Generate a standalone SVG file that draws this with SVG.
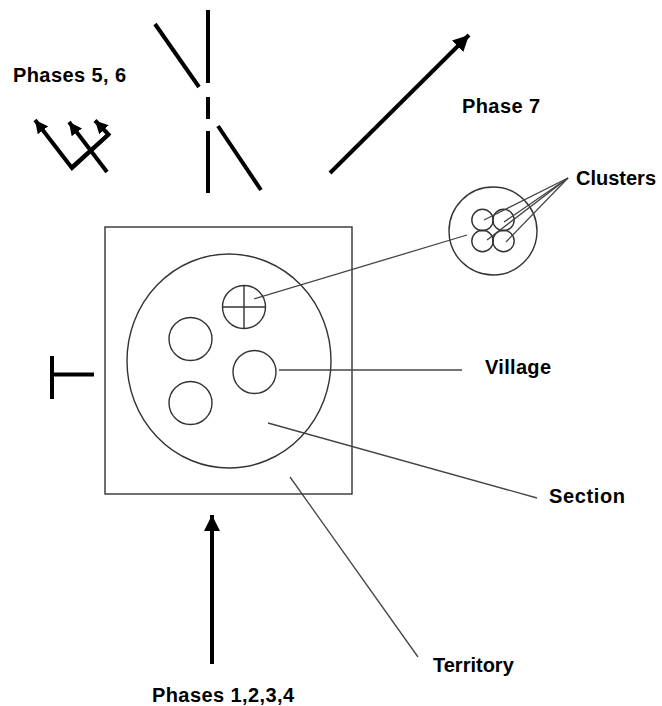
<svg xmlns="http://www.w3.org/2000/svg" width="662" height="706" viewBox="0 0 662 706">
  <style>
    .label { font-family: "Liberation Sans", Arial, sans-serif; font-weight: bold; font-size: 20px; fill: #000; }
    .outline { fill: none; stroke: #333; stroke-width: 1.4; }
    .leader { fill: none; stroke: #444; stroke-width: 1.3; }
    .bold { fill: none; stroke: #000; stroke-width: 4; stroke-linecap: butt; }
  </style>
  <defs>
    <marker id="headBig" markerUnits="userSpaceOnUse" markerWidth="18" markerHeight="16" refX="16" refY="8" orient="auto">
      <path d="M0,0 L16,8 L0,16 Z" fill="#000"/>
    </marker>
    <marker id="headSmall" markerUnits="userSpaceOnUse" markerWidth="14" markerHeight="13" refX="13" refY="6.5" orient="auto">
      <path d="M0,0 L13,6.5 L0,13 Z" fill="#000"/>
    </marker>
  </defs>
  <rect width="662" height="706" fill="#fff"/>

  <!-- Territory -->
  <g id="territory">
    <rect class="outline" x="105" y="227" width="247" height="267"/>
  </g>

  <!-- Section -->
  <g id="section">
    <ellipse class="outline" cx="229" cy="361" rx="102" ry="107"/>
  </g>

  <!-- Villages -->
  <g id="village-cluster">
    <circle class="outline" cx="244" cy="307" r="21.5"/>
    <line class="outline" x1="222.5" y1="307" x2="265.5" y2="307"/>
    <line class="outline" x1="244" y1="285.5" x2="244" y2="328.5"/>
  </g>
  <g id="village-a"><circle class="outline" cx="190.5" cy="339" r="21.5"/></g>
  <g id="village-b"><circle class="outline" cx="254.5" cy="372" r="21.5"/></g>
  <g id="village-c"><circle class="outline" cx="190.5" cy="403" r="21.5"/></g>

  <!-- Enlarged village with its clusters -->
  <g id="clusters">
    <circle class="outline" cx="493" cy="231" r="44"/>
    <circle class="outline" cx="482.5" cy="220" r="10.7"/>
    <circle class="outline" cx="503.5" cy="220" r="10.7"/>
    <circle class="outline" cx="482.5" cy="241" r="10.7"/>
    <circle class="outline" cx="503.5" cy="241" r="10.7"/>
  </g>

  <!-- Leader lines and phase arrows -->
  <g id="connectors">
    <line class="leader" x1="254" y1="299" x2="467" y2="235"/>
    <line class="leader" x1="568" y1="178" x2="484" y2="220"/>
    <line class="leader" x1="568" y1="178" x2="504" y2="222"/>
    <line class="leader" x1="568" y1="178" x2="487" y2="240"/>
    <line class="leader" x1="568" y1="178" x2="506" y2="242"/>
    <line class="leader" x1="279" y1="370" x2="462" y2="370"/>
    <line class="leader" x1="268" y1="423" x2="537" y2="498"/>
    <line class="leader" x1="290" y1="477" x2="418" y2="657"/>

    <!-- Phases 1,2,3,4 -->
    <line class="bold" x1="212" y1="664" x2="212" y2="515" marker-end="url(#headBig)"/>
    <!-- Phase 7 -->
    <line class="bold" x1="330" y1="173" x2="469" y2="35" marker-end="url(#headBig)"/>
    <!-- Blocked arrow on the left -->
    <line class="bold" x1="52" y1="356" x2="52" y2="399"/>
    <line class="bold" x1="50" y1="374.5" x2="94" y2="374.5"/>
    <!-- Broken lines at the top -->
    <line class="bold" x1="208" y1="10" x2="208" y2="83"/>
    <line class="bold" x1="155" y1="24" x2="199" y2="87"/>
    <line class="bold" x1="208" y1="97" x2="208" y2="119"/>
    <line class="bold" x1="208" y1="131" x2="208" y2="193"/>
    <line class="bold" x1="218" y1="126" x2="261" y2="190"/>
    <!-- Phases 5, 6 branching arrows -->
    <polyline class="bold" points="108.5,134.5 72,168 35,120" stroke-linejoin="miter" marker-end="url(#headSmall)"/>
    <line class="bold" x1="107" y1="172" x2="69" y2="122" marker-end="url(#headSmall)"/>
    <polyline class="bold" points="71,168 108.5,134.5 95,120.5" stroke-linejoin="miter" marker-end="url(#headSmall)"/>
  </g>

  <!-- Labels -->
  <text class="label" x="13" y="82" textLength="113" lengthAdjust="spacing">Phases 5, 6</text>
  <text class="label" x="462" y="113" textLength="78" lengthAdjust="spacing">Phase 7</text>
  <text class="label" x="576" y="185">Clusters</text>
  <text class="label" x="485" y="374" textLength="66" lengthAdjust="spacing">Village</text>
  <text class="label" x="549" y="503" textLength="76" lengthAdjust="spacing">Section</text>
  <text class="label" x="433" y="672">Territory</text>
  <text class="label" x="152" y="702" textLength="142" lengthAdjust="spacing">Phases 1,2,3,4</text>
</svg>
